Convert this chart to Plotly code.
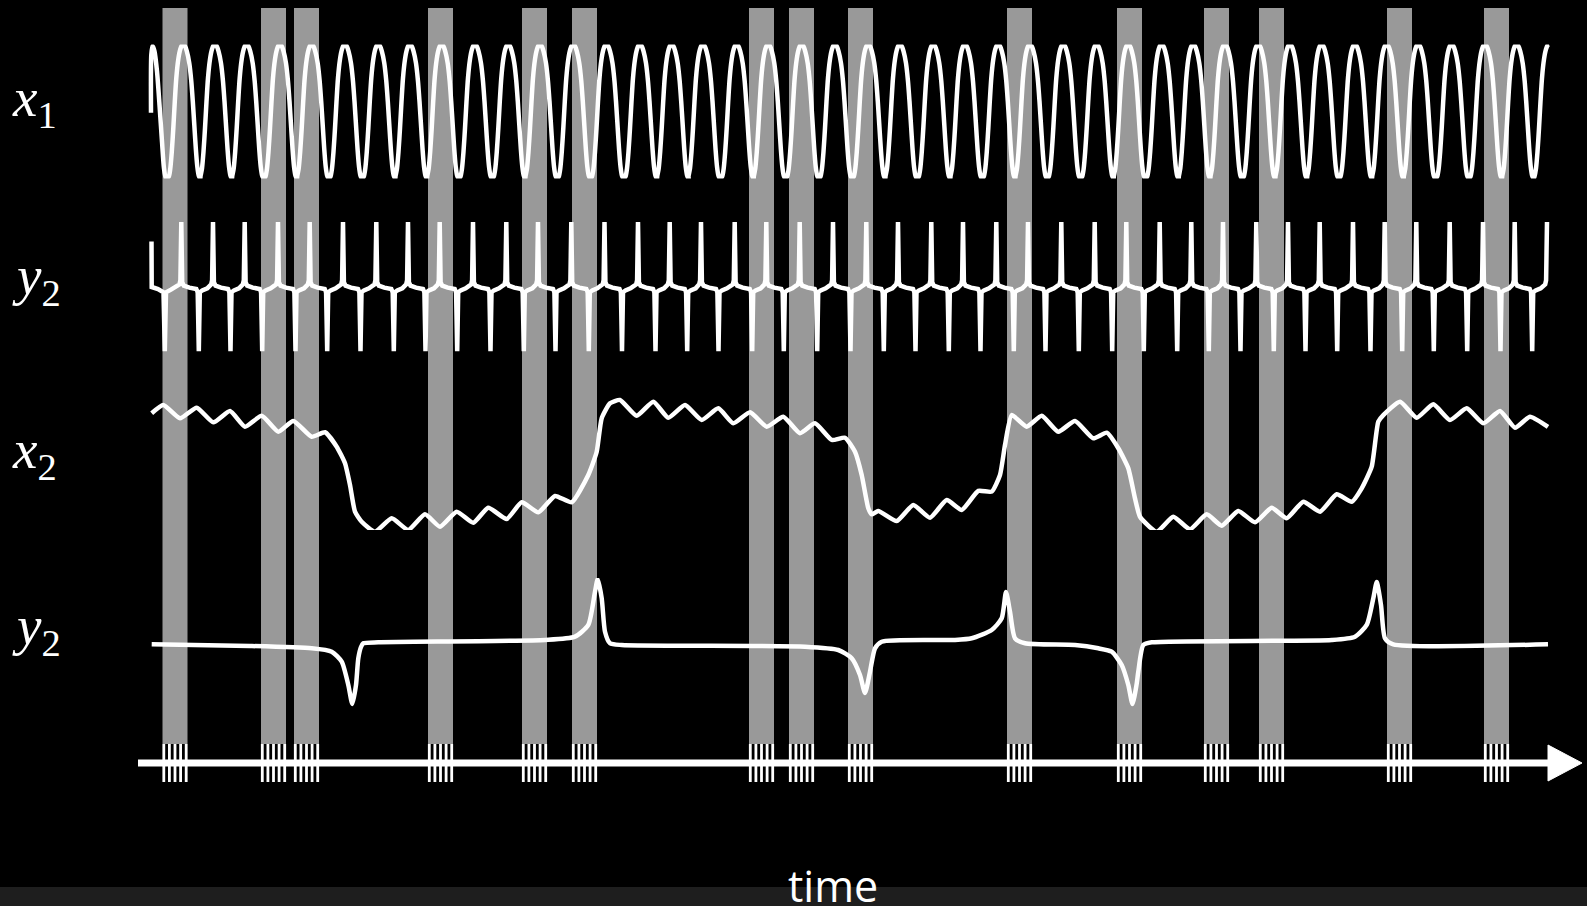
import plotly.graph_objects as go

W, H = 1587, 906

# ---------------------------------------------------------------- data
# stimulation trains (centre time of each train) and pulse offsets within a train
STIM_TIMES = [175, 273.5, 306.5, 440.5, 534.5, 584.5, 761.5, 801.5, 860.5,
              1019.5, 1129.5, 1216.5, 1271.5, 1399.5, 1496.5]
PULSE_OFFSETS = [-11.2, -5.6, 0.0, 5.6, 11.2]
STIM_HALF_WIDTH = 12.5

# x1: times of the fast-oscillation maxima
X1_PEAKS = [183.3, 215, 246.7, 280, 311.7, 345, 378.3, 410, 441.7, 475, 508.3,
            540, 573.3, 606.5, 640, 671.7, 703, 736.7, 768.3, 801.7, 835, 868.3,
            900, 933.3, 965, 998.3, 1030, 1063.3, 1096.7, 1128.3, 1161.7, 1193.3,
            1225, 1258.3, 1290, 1321.7, 1355, 1386.7, 1418.3, 1451.7, 1485,
            1516.7, 1549]
# opening segment of x1 before the first maximum
X1_LEAD_T = [151, 151.3, 152.5, 154.5, 157, 159.5, 162, 164, 166]
X1_LEAD_V = [-0.02, 0.85, 0.98, 0.9, 0.6, 0.1, -0.45, -0.85, -1.0]
# one x1 cycle: decay after a maximum (offset, level) ...
X1_FALL_DT = [1.5, 3.5, 6, 8, 9.5, 11, 12.5, 14, 15.5, 17]
X1_FALL_V = [0.98, 0.9, 0.72, 0.45, 0.15, -0.2, -0.55, -0.82, -0.96, -1.0]
# ... and rise into the next maximum (offset before it, level)
X1_RISE_DT = [-14.5, -13, -11.5, -10, -8.5, -7, -5, -3, -1.3]
X1_RISE_V = [-0.97, -0.85, -0.6, -0.25, 0.15, 0.5, 0.78, 0.93, 0.99]

# y2 (fast): one up-spike just before each x1 maximum, one down-spike on the fall
Y2_SPIKE_LAG = -2.0
Y2_LEAD_T = [151.5, 151.7, 158, 163.5, 164.8, 166, 171, 176]
Y2_LEAD_V = [0.71, 0.03, 0.0, -0.05, -0.93, -0.05, -0.01, 0.03]
Y2_PRE_DT = [-3.5, -1.8, -0.9]
Y2_PRE_V = [0.04, 0.07, 0.13]
Y2_BODY_DT = [0.9, 2.5, 8, 15, 16.4, 17.5, 18.5, 21, 26]
Y2_BODY_V = [0.1, 0.05, 0.02, 0.0, -0.05, -0.93, -0.05, -0.02, 0.01]

# x2 (slow variable)
X2_T = [151.7, 163.3, 180, 196.7, 213.3, 230, 245, 261.7, 278.3, 293.3, 311.7,
        325, 336.7, 345, 350, 355, 361.7, 375, 391.7, 408.3, 425, 440, 456.7,
        473.3, 488.3, 506.7, 521.7, 538.3, 555, 571.7, 588.3, 596.7, 601.7,
        610, 620, 636.7, 653.3, 668.3, 685, 701.7, 718.3, 733.3, 750, 766.7,
        783.3, 800, 815, 831.7, 845, 855, 861.7, 868.3, 871.7, 878.3, 896.7,
        913.3, 930, 946.7, 961.7, 978.3, 991.7, 1000, 1005, 1011.7, 1026.7,
        1041.7, 1058.3, 1075, 1093.3, 1106.7, 1118.3, 1128.3, 1135, 1140,
        1156.7, 1173.3, 1190, 1206.7, 1221.7, 1238.3, 1255, 1271.7, 1286.7,
        1303.3, 1320, 1336.7, 1351.7, 1361.7, 1371.7, 1378.3, 1383.3, 1400,
        1416.7, 1433.3, 1450, 1466.7, 1483.3, 1500, 1515, 1530, 1548]
X2_V = [0.834, 0.893, 0.798, 0.874, 0.769, 0.850, 0.738, 0.816, 0.702, 0.779,
        0.666, 0.698, 0.595, 0.476, 0.321, 0.131, 0.059, -0.012, 0.084, 0.0,
        0.112, 0.024, 0.131, 0.052, 0.159, 0.079, 0.198, 0.126, 0.243, 0.198,
        0.393, 0.559, 0.798, 0.905, 0.929, 0.816, 0.916, 0.802, 0.893, 0.786,
        0.869, 0.762, 0.841, 0.738, 0.809, 0.691, 0.762, 0.643, 0.659, 0.559,
        0.393, 0.155, 0.112, 0.136, 0.064, 0.179, 0.088, 0.214, 0.143, 0.279,
        0.274, 0.393, 0.607, 0.821, 0.738, 0.816, 0.702, 0.779, 0.655, 0.695,
        0.584, 0.441, 0.226, 0.095, -0.012, 0.095, 0.005, 0.112, 0.031, 0.136,
        0.055, 0.159, 0.084, 0.202, 0.131, 0.255, 0.202, 0.298, 0.452, 0.774,
        0.821, 0.916, 0.802, 0.898, 0.786, 0.869, 0.762, 0.850, 0.731, 0.809,
        0.736]

# y2 (slow view)
Y2S_T = [151.7, 250, 311.7, 331.7, 341.7, 348.3, 352.3, 356, 358.3, 361, 363.3,
         378.3, 545, 575, 588.3, 595, 597.7, 601.7, 605, 610, 621.7, 805,
         838.3, 851.7, 860, 865, 870, 875, 881.7, 955, 971.7, 991.7, 1001.7,
         1006, 1010, 1015, 1025, 1075, 1098.3, 1111.7, 1121.7, 1128.3, 1132.5,
         1136.5, 1138.3, 1143.3, 1151.7, 1331.7, 1355, 1366.7, 1373.3, 1376.7,
         1381, 1385, 1393.3, 1548]
Y2S_V = [-0.005, -0.033, -0.072, -0.128, -0.295, -0.683, -1.0, -0.683, -0.238,
         -0.05, 0.012, 0.028, 0.067, 0.122, 0.317, 0.872, 1.083, 0.762, 0.205,
         0.012, -0.017, -0.045, -0.1, -0.238, -0.517, -0.817, -0.462, -0.072,
         0.038, 0.067, 0.095, 0.233, 0.428, 0.867, 0.538, 0.095, 0.012, -0.017,
         -0.072, -0.128, -0.35, -0.683, -1.0, -0.683, -0.462, -0.017, 0.028,
         0.067, 0.122, 0.317, 0.762, 1.033, 0.65, 0.095, -0.005, -0.005]

ROW_LABELS = ["<i>x</i><sub>1</sub>", "<i>y</i><sub>2</sub>",
              "<i>x</i><sub>2</sub>", "<i>y</i><sub>2</sub>"]
AXIS_TITLE = "time"


# ---------------------------------------------------------------- build series
def x1_series():
    t, v = list(X1_LEAD_T), list(X1_LEAD_V)
    for i, p in enumerate(X1_PEAKS):
        t += [p + d for d in X1_RISE_DT]
        v += X1_RISE_V
        t.append(p)
        v.append(1.0)
        if i < len(X1_PEAKS) - 1:
            t += [p + d for d in X1_FALL_DT]
            v += X1_FALL_V
    return t, v


def y2_series():
    t, v = list(Y2_LEAD_T), list(Y2_LEAD_V)
    spikes = [p + Y2_SPIKE_LAG for p in X1_PEAKS]
    for i, u in enumerate(spikes):
        t += [u + d for d in Y2_PRE_DT]
        v += Y2_PRE_V
        t.append(u)
        v.append(1.0)
        if i < len(spikes) - 1:
            t += [u + d for d in Y2_BODY_DT]
            v += Y2_BODY_V
    return t, v


def paper_y(row):
    return 1 - row / H


x1_t, x1_v = x1_series()
y2_t, y2_v = y2_series()

line = dict(color="white", width=4.5)
fig = go.Figure()
fig.add_trace(go.Scatter(x=x1_t, y=x1_v, yaxis="y", mode="lines",
                         line=dict(**line, shape="spline", smoothing=0.7)))
fig.add_trace(go.Scatter(x=y2_t, y=y2_v, yaxis="y2", mode="lines", line=line))
fig.add_trace(go.Scatter(x=X2_T, y=X2_V, yaxis="y3", mode="lines",
                         line=dict(**line, shape="spline", smoothing=0.5)))
fig.add_trace(go.Scatter(x=Y2S_T, y=Y2S_V, yaxis="y4", mode="lines",
                         line=dict(**line, shape="spline", smoothing=0.6)))
fig.update_traces(hoverinfo="skip", showlegend=False)

# ---------------------------------------------------------------- shapes
shapes = []
band_top, band_bottom = paper_y(8), paper_y(744)
for c in STIM_TIMES:
    shapes.append(dict(type="rect", xref="x", yref="paper",
                       x0=c - STIM_HALF_WIDTH, x1=c + STIM_HALF_WIDTH,
                       y0=band_bottom, y1=band_top,
                       fillcolor="#999999", line_width=0, layer="below"))
# footer strip
shapes.append(dict(type="rect", xref="paper", yref="paper", x0=0, x1=1,
                   y0=0, y1=paper_y(887), fillcolor="#1e1e1e", line_width=0,
                   layer="below"))
# time axis with arrow head
axis_y = paper_y(763)
shapes.append(dict(type="line", xref="x", yref="paper", x0=138, x1=1550,
                   y0=axis_y, y1=axis_y, line=dict(color="white", width=7)))
shapes.append(dict(type="path", xref="x", yref="paper",
                   path=f"M 1548,{paper_y(745)} L 1582,{axis_y} L 1548,{paper_y(781)} Z",
                   fillcolor="white", line=dict(color="white", width=1)))
# stimulation pulses
for c in STIM_TIMES:
    for o in PULSE_OFFSETS:
        shapes.append(dict(type="line", xref="x", yref="paper", x0=c + o,
                           x1=c + o, y0=paper_y(782), y1=paper_y(744),
                           line=dict(color="white", width=2.8)))

# ---------------------------------------------------------------- labels
label_rows = [101, 279, 453, 629]
annotations = []
for txt, r in zip(ROW_LABELS, label_rows):
    annotations.append(dict(text=txt, xref="paper", yref="paper", x=10 / W,
                            y=paper_y(r), xanchor="left", yanchor="middle",
                            showarrow=False,
                            font=dict(family="Liberation Serif, Times New Roman, serif",
                                      size=55, color="white")))
annotations.append(dict(text=AXIS_TITLE, xref="x", yref="paper", x=833,
                        y=paper_y(885), xanchor="center", yanchor="middle",
                        showarrow=False,
                        font=dict(family="Open Sans", size=43, color="white")))

hidden = dict(visible=False, fixedrange=True)
fig.update_layout(
    width=W, height=H, margin=dict(l=0, r=0, t=0, b=0, pad=0),
    paper_bgcolor="black", plot_bgcolor="black",
    xaxis=dict(range=[0, W], domain=[0, 1], **hidden),
    yaxis=dict(domain=[paper_y(178.5), paper_y(44.5)], range=[-1, 1], **hidden),
    yaxis2=dict(domain=[paper_y(356), paper_y(222)], range=[-1, 1],
                anchor="x", **hidden),
    yaxis3=dict(domain=[paper_y(530), paper_y(390)], range=[0, 1],
                anchor="x", **hidden),
    yaxis4=dict(domain=[paper_y(710), paper_y(578)], range=[-1.1, 1.1],
                anchor="x", **hidden),
    shapes=shapes, annotations=annotations, showlegend=False,
)

fig.write_html("out.html", config={"displayModeBar": False})
